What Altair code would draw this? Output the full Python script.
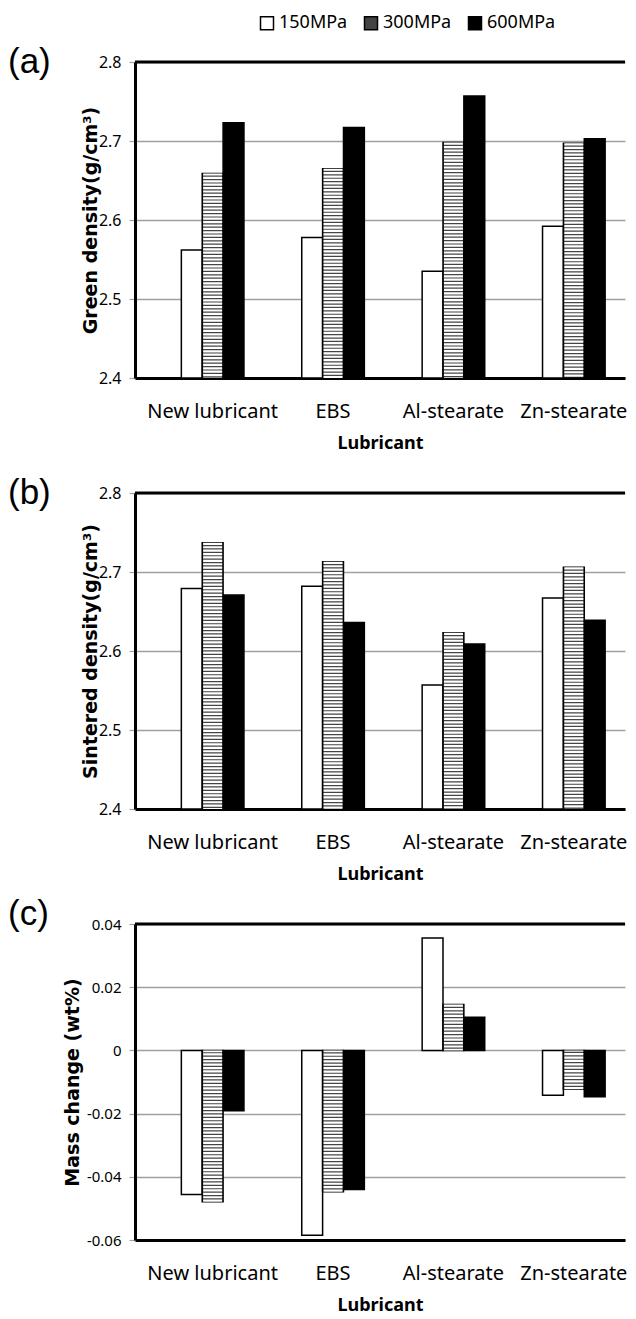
import altair as alt
import pandas as pd

lubricants = ["New lubricant", "EBS", "Al-stearate", "Zn-stearate"]
pressures = ["150MPa", "300MPa", "600MPa"]
pressure_fills = ["white", "#444444", "black"]
panel_labels = ["(a)", "(b)", "(c)"]

green_150 = [2.562, 2.578, 2.535, 2.592]
green_300 = [2.659, 2.665, 2.698, 2.697]
green_600 = [2.723, 2.717, 2.757, 2.703]

sint_150 = [2.679, 2.682, 2.557, 2.667]
sint_300 = [2.737, 2.713, 2.623, 2.706]
sint_600 = [2.671, 2.636, 2.609, 2.639]

mass_150 = [-0.0456, -0.0585, 0.0356, -0.0142]
mass_300 = [-0.0479, -0.0447, 0.0145, -0.0123]
mass_600 = [-0.0191, -0.0440, 0.0105, -0.0147]

dens_ticks = [2.4, 2.5, 2.6, 2.7, 2.8]
mass_ticks = [-0.06, -0.04, -0.02, 0, 0.02, 0.04]


def long_df(v150, v300, v600):
    rows = []
    for p, vals in zip(pressures, [v150, v300, v600]):
        for lub, v in zip(lubricants, vals):
            rows.append({"lubricant": lub, "pressure": p, "value": v})
    return pd.DataFrame(rows)


W = 490
H = 316
TXT = "Noto Sans"


def panel(df, label, ytitle, domain, ticks, base, title_x, tag_y, ylab_size):
    x = alt.X(
        "lubricant:N",
        sort=lubricants,
        scale=alt.Scale(paddingInner=0.48, paddingOuter=0.275, align=0.7),
        axis=alt.Axis(
            title="Lubricant", labelAngle=0, ticks=False, grid=False,
            domainColor="black", domainWidth=3,
            labelFont=TXT, labelFontSize=20, labelColor="black", labelPadding=23,
            titleFont=TXT, titleFontSize=18, titleFontWeight="bold",
            titleColor="black", titlePadding=13,
        ),
    )
    xo = alt.XOffset("pressure:N", sort=pressures,
                     scale=alt.Scale(paddingInner=0, paddingOuter=0))
    y = alt.Y(
        "value:Q",
        scale=alt.Scale(domain=domain, nice=False, zero=False),
        axis=alt.Axis(
            values=ticks, title=ytitle, labelExpr="toString(datum.value)",
            grid=True, gridColor="#a0a0a0", gridWidth=1.5,
            tickColor="#a0a0a0", tickSize=6, tickWidth=1.2,
            domainColor="black", domainWidth=3,
            labelFont=TXT, labelFontSize=ylab_size, labelColor="black", labelPadding=8,
            titleFont="DejaVu Sans", titleFontSize=19, titleFontWeight="bold",
            titleColor="black", titleX=title_x, titleBaseline="middle",
        ),
    )
    fill = alt.Fill(
        "pressure:N", sort=pressures,
        scale=alt.Scale(domain=pressures, range=pressure_fills),
        legend=alt.Legend(
            orient="none", legendX=123, legendY=-48, direction="horizontal",
            title=None, symbolType="square", symbolSize=169,
            symbolStrokeColor="black", symbolStrokeWidth=1.5,
            labelFont=TXT, labelFontSize=18, labelColor="black",
            labelOffset=3, columnPadding=13,
        ),
    )
    src = alt.Chart(df)
    bars = src.mark_bar(stroke="black", strokeWidth=1.5).encode(
        x=x, xOffset=xo, y=y, y2=alt.datum(base), fill=fill
    )
    stripes = src.transform_filter(alt.datum.pressure == "300MPa").mark_rule(
        color="white", strokeWidth=19, strokeDash=[2.2, 1.2], strokeCap="butt"
    ).encode(x=x, xOffset=xo, y=y, y2=alt.datum(base))
    deco = alt.Chart(pd.DataFrame({"label": [label]}))
    top = deco.mark_rule(color="black", strokeWidth=3).encode(
        x=alt.value(0), x2=alt.value(W), y=alt.value(0)
    )
    tag = deco.mark_text(
        font="Liberation Sans", fontSize=35, align="left", baseline="middle", color="black"
    ).encode(x=alt.value(-127), y=alt.value(tag_y), text="label:N")
    return alt.layer(bars, stripes, top, tag).properties(width=W, height=H)


pa = panel(long_df(green_150, green_300, green_600), panel_labels[0],
           "Green density(g/cm³)", [2.4, 2.8], dens_ticks, 2.4, -45, 0, 16)
pb = panel(long_df(sint_150, sint_300, sint_600), panel_labels[1],
           "Sintered density(g/cm³)", [2.4, 2.8], dens_ticks, 2.4, -45, 0, 16)
pc = panel(long_df(mass_150, mass_300, mass_600), panel_labels[2],
           "Mass change (wt%)", [-0.06, 0.04], mass_ticks, 0, -63, -10, 15)

chart = alt.vconcat(pa, pb, pc, spacing=115, bounds="flush").configure_view(
    stroke=None
).properties(padding={"left": 0, "top": 6, "right": 0, "bottom": 0})

chart.save("out.html", embed_options={"renderer": "svg", "actions": False})
